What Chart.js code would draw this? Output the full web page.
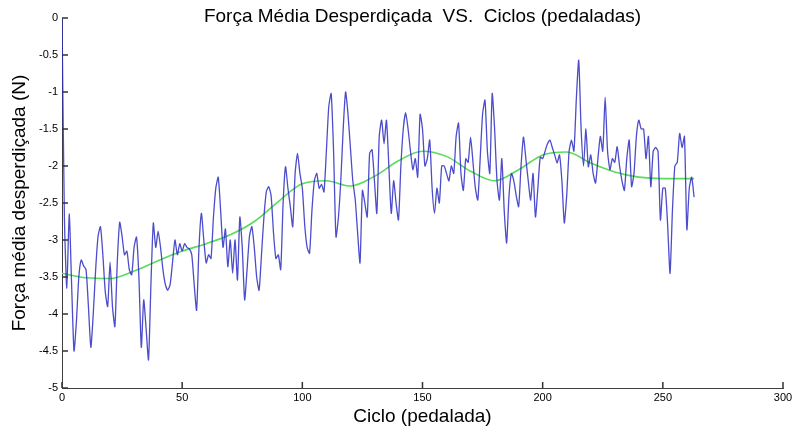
<!DOCTYPE html>
<html>
<head>
<meta charset="utf-8">
<script src="https://cdn.jsdelivr.net/npm/chart.js@4.4.0/dist/chart.umd.min.js"></script>
<style>
  html, body { margin: 0; padding: 0; background: #fff; }
  #wrap { width: 796px; height: 428px; }
</style>
</head>
<body>
<div id="wrap"><canvas id="forceChart" width="796" height="428"></canvas></div>
<script>
const chartTitle = 'Força Média Desperdiçada  VS.  Ciclos (pedaladas)';
const xTitle = 'Ciclo (pedalada)';
const yTitle = 'Força média desperdiçada (N)';

const xTicks = [0, 50, 100, 150, 200, 250, 300];
const yTicks = [0, -0.5, -1, -1.5, -2, -2.5, -3, -3.5, -4, -4.5, -5];

// mean wasted force per cycle (cycles 0..263)
const forceValues = [
  0.0, -2.7, -3.65, -2.65, -3.6, -4.5, -4.1, -3.5, -3.27, -3.35,
  -3.4, -3.9, -4.45, -4.0, -3.4, -2.95, -2.82, -3.2, -3.7, -3.9,
  -3.3, -3.9, -4.17, -3.3, -2.76, -2.95, -3.2, -3.15, -3.4, -3.47,
  -3.1, -2.96, -3.5, -4.45, -3.81, -4.2, -4.62, -3.6, -2.77, -3.1,
  -2.88, -3.1, -3.4, -3.6, -3.68, -3.6, -3.3, -3.0, -3.2, -3.05,
  -3.15, -3.05, -3.1, -3.12, -3.2, -3.6, -3.95, -3.1, -2.64, -3.0,
  -3.31, -3.2, -3.25, -2.7, -2.3, -2.15, -2.6, -3.1, -2.85, -3.36,
  -3.0, -3.45, -3.0, -3.54, -2.69, -3.1, -3.81, -3.4, -2.95, -2.82,
  -3.1, -3.5, -3.68, -3.2, -2.7, -2.35, -2.28, -2.4, -2.9, -3.25,
  -3.2, -3.4, -2.5, -2.01, -2.3, -2.55, -2.82, -2.1, -1.83, -2.1,
  -2.3, -2.8, -3.1, -3.18, -2.6, -2.2, -2.1, -2.3, -2.25, -2.35,
  -1.8, -1.2, -1.02, -1.8, -2.96, -2.7, -2.2, -1.5, -1.0, -1.3,
  -1.75, -2.2, -2.45, -2.9, -3.31, -2.33, -2.5, -2.69, -1.83, -1.78,
  -2.2, -2.64, -1.6, -1.38, -1.7, -1.38, -2.0, -2.64, -2.2, -2.5,
  -2.73, -2.0, -1.5, -1.28, -1.5, -1.8, -2.05, -1.9, -2.15, -1.3,
  -1.5, -2.0, -1.9, -1.65, -2.3, -2.64, -2.3, -2.5, -2.0, -2.0,
  -2.1, -2.2, -2.0, -2.1, -1.6, -1.42, -2.1, -2.33, -1.9, -1.95,
  -1.61, -1.95, -2.3, -2.46, -1.9, -1.3, -1.11, -1.8, -2.1, -1.02,
  -1.5, -2.2, -2.46, -1.9, -2.6, -3.04, -2.4, -2.1, -2.2, -2.4,
  -2.55, -2.0, -1.61, -1.9, -2.2, -2.46, -2.1, -2.69, -2.3, -1.88,
  -1.9, -1.8, -1.7, -1.65, -1.75, -1.85, -1.96, -1.85, -2.2, -2.77,
  -2.4, -1.8, -1.65, -1.8, -1.1, -0.57, -1.5, -2.0, -1.5, -2.01,
  -1.85, -2.1, -2.23, -1.9, -1.6, -1.8, -1.07, -1.8, -2.05, -1.9,
  -1.95, -1.74, -2.0, -2.2, -2.33, -1.9, -1.65, -2.28, -2.1, -1.6,
  -1.38, -1.5, -1.5, -1.9, -1.6, -2.28, -1.8, -1.75, -1.8, -2.73,
  -2.3, -2.3, -2.8, -3.45, -2.6, -2.0, -1.95, -1.56, -1.75, -1.6,
  -2.86, -2.3, -2.15, -2.42
];
const cycles = forceValues.map((_, i) => i);

// smoothed trend (green)
const trendCycles = [0, 10, 20, 30, 40, 50, 60, 70, 80, 90, 100, 110, 120, 130,
  140, 150, 160, 170, 180, 190, 200, 210, 220, 230, 240, 250, 263];
const trendValues = [-3.45, -3.51, -3.52, -3.42, -3.28, -3.15, -3.05, -2.93, -2.75,
  -2.48, -2.24, -2.2, -2.27, -2.14, -1.93, -1.8, -1.87, -2.07, -2.2, -2.05, -1.85,
  -1.81, -1.96, -2.08, -2.15, -2.17, -2.17];

const axisColor = '#404040';
const tickFont = { family: "'Liberation Sans Narrow', 'Liberation Sans', Arial, sans-serif", size: 11 };
const labelFont = { family: "'Liberation Sans', Arial, sans-serif", size: 19 };

// inward tick marks + title over the top of the axes, as in the original figure
const matlabAxes = {
  id: 'matlabAxes',
  afterDraw(chart) {
    const { ctx, chartArea } = chart;
    const x = chart.scales.x, y = chart.scales.y;
    ctx.save();
    ctx.strokeStyle = '#333333';
    ctx.lineWidth = 1.5;
    ctx.beginPath();
    xTicks.forEach(v => {
      const px = x.getPixelForValue(v);
      ctx.moveTo(px, chartArea.bottom);
      ctx.lineTo(px, chartArea.bottom - 6);
    });
    yTicks.forEach(v => {
      const py = y.getPixelForValue(v);
      ctx.moveTo(chartArea.left, py);
      ctx.lineTo(chartArea.left + 6, py);
    });
    ctx.stroke();
    ctx.fillStyle = '#000';
    ctx.font = "19px 'Liberation Sans', Arial, sans-serif";
    ctx.textAlign = 'center';
    ctx.textBaseline = 'middle';
    ctx.fillText(chartTitle, (chartArea.left + chartArea.right) / 2, 17);
    ctx.restore();
  }
};

new Chart(document.getElementById('forceChart'), {
  type: 'line',
  data: {
    datasets: [{
      label: 'Força',
      data: cycles.map((c, i) => ({ x: c, y: forceValues[i] })),
      borderColor: 'rgba(45, 45, 195, 0.85)',
      borderWidth: 1.3,
      pointRadius: 0,
      tension: 0.2
    }, {
      label: 'Tendência',
      data: trendCycles.map((c, i) => ({ x: c, y: trendValues[i] })),
      borderColor: 'rgb(90, 220, 90)',
      borderWidth: 1.6,
      pointRadius: 0,
      cubicInterpolationMode: 'monotone'
    }]
  },
  options: {
    responsive: false,
    animation: false,
    layout: { padding: { left: 0, top: 18, right: 13, bottom: 0 } },
    plugins: {
      legend: { display: false },
      tooltip: { enabled: false }
    },
    scales: {
      x: {
        type: 'linear',
        min: 0,
        max: 300,
        afterBuildTicks: (scale) => { scale.ticks = xTicks.map(v => ({ value: v })); },
        afterFit: (scale) => { scale.height = 40; },
        grid: { drawOnChartArea: false, drawTicks: false },
        border: { color: axisColor, width: 1 },
        ticks: { color: '#000', font: tickFont, padding: 3, maxRotation: 0, callback: (v) => String(v) },
        title: { display: true, text: xTitle, color: '#000', font: labelFont, padding: { top: 0, bottom: 0 } }
      },
      y: {
        min: -5,
        max: 0,
        afterBuildTicks: (scale) => { scale.ticks = yTicks.map(v => ({ value: v })); },
        afterFit: (scale) => { scale.width = 62; },
        grid: { drawOnChartArea: false, drawTicks: false },
        border: { color: axisColor, width: 1 },
        ticks: { color: '#000', font: tickFont, padding: 4, callback: (v) => String(v) },
        title: { display: true, text: yTitle, color: '#000', font: labelFont, padding: { top: 8, bottom: 0 } }
      }
    }
  },
  plugins: [matlabAxes]
});
</script>
</body>
</html>
